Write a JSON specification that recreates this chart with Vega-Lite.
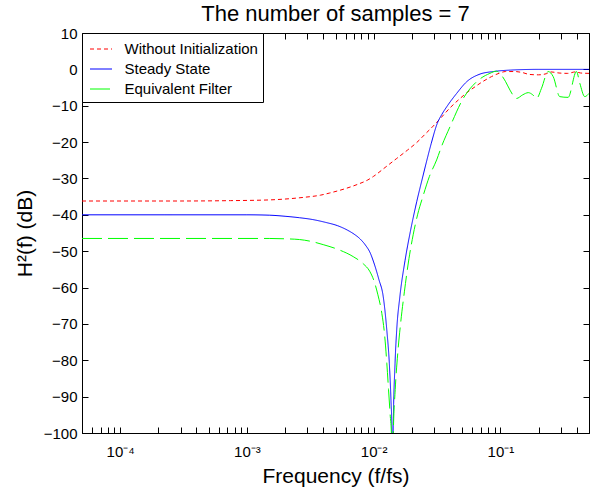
{
  "$schema": "https://vega.github.io/schema/vega-lite/v6.json",
  "width": 507,
  "height": 400,
  "autosize": {"type": "none"},
  "padding": {"left": 82, "top": 33, "right": 2, "bottom": 60},
  "background": "white",
  "title": {"text": "The number of samples = 7", "fontSize": 22, "font": "Liberation Sans", "fontWeight": "normal", "color": "black", "anchor": "middle", "offset": 0},
  "config": {
    "font": "Liberation Sans",
    "view": {"stroke": "black", "strokeWidth": 1},
    "axis": {
      "grid": false,
      "domainColor": "black",
      "tickColor": "black",
      "labelColor": "black",
      "titleColor": "black",
      "labelFont": "Liberation Sans",
      "titleFont": "Liberation Sans",
      "labelFontSize": 15,
      "titleFontSize": 21,
      "titleFontWeight": "normal",
      "tickSize": -6,
      "labelOverlap": false,
      "labelFlush": false
    },
    "legend": {
      "orient": "top-left",
      "offset": 0,
      "padding": 4.5,
      "strokeColor": "black",
      "fillColor": "white",
      "cornerRadius": 0,
      "symbolType": "stroke",
      "symbolSize": 484,
      "symbolStrokeWidth": 1,
      "symbolOffset": 3,
      "labelFont": "Liberation Sans",
      "labelFontSize": 15,
      "labelColor": "black",
      "labelOffset": 12,
      "rowPadding": -4
    }
  },
  "data": {"values": [
    {"f": 5e-5, "db": -36.2, "s": "Without Initialization"},
    {"f": 3e-4, "db": -36.2, "s": "Without Initialization"},
    {"f": 7.4e-4, "db": -36.1, "s": "Without Initialization"},
    {"f": 1.5e-3, "db": -35.9, "s": "Without Initialization"},
    {"f": 2.8e-3, "db": -35.2, "s": "Without Initialization"},
    {"f": 3.8e-3, "db": -34.6, "s": "Without Initialization"},
    {"f": 4.5e-3, "db": -34.0, "s": "Without Initialization"},
    {"f": 6.1e-3, "db": -32.7, "s": "Without Initialization"},
    {"f": 7.5e-3, "db": -31.6, "s": "Without Initialization"},
    {"f": 9.0e-3, "db": -30.4, "s": "Without Initialization"},
    {"f": 0.01, "db": -29.4, "s": "Without Initialization"},
    {"f": 0.0125, "db": -26.8, "s": "Without Initialization"},
    {"f": 0.0152, "db": -24.5, "s": "Without Initialization"},
    {"f": 0.0185, "db": -22.2, "s": "Without Initialization"},
    {"f": 0.0219, "db": -20.1, "s": "Without Initialization"},
    {"f": 0.0255, "db": -17.8, "s": "Without Initialization"},
    {"f": 0.0295, "db": -15.6, "s": "Without Initialization"},
    {"f": 0.034, "db": -13.3, "s": "Without Initialization"},
    {"f": 0.04, "db": -10.6, "s": "Without Initialization"},
    {"f": 0.047, "db": -8.3, "s": "Without Initialization"},
    {"f": 0.054, "db": -6.5, "s": "Without Initialization"},
    {"f": 0.063, "db": -4.8, "s": "Without Initialization"},
    {"f": 0.073, "db": -3.3, "s": "Without Initialization"},
    {"f": 0.085, "db": -2.0, "s": "Without Initialization"},
    {"f": 0.099, "db": -1.0, "s": "Without Initialization"},
    {"f": 0.11, "db": -0.6, "s": "Without Initialization"},
    {"f": 0.13, "db": -0.6, "s": "Without Initialization"},
    {"f": 0.15, "db": -0.9, "s": "Without Initialization"},
    {"f": 0.17, "db": -1.4, "s": "Without Initialization"},
    {"f": 0.2, "db": -1.5, "s": "Without Initialization"},
    {"f": 0.23, "db": -1.2, "s": "Without Initialization"},
    {"f": 0.25, "db": -0.7, "s": "Without Initialization"},
    {"f": 0.29, "db": -1.0, "s": "Without Initialization"},
    {"f": 0.34, "db": -1.1, "s": "Without Initialization"},
    {"f": 0.39, "db": -0.7, "s": "Without Initialization"},
    {"f": 0.43, "db": -1.0, "s": "Without Initialization"},
    {"f": 0.5, "db": -1.1, "s": "Without Initialization"},

    {"f": 5e-5, "db": -40.0, "s": "Steady State"},
    {"f": 1.0e-3, "db": -40.0, "s": "Steady State"},
    {"f": 1.5e-3, "db": -40.1, "s": "Steady State"},
    {"f": 2.0e-3, "db": -40.4, "s": "Steady State"},
    {"f": 2.6e-3, "db": -40.8, "s": "Steady State"},
    {"f": 3.3e-3, "db": -41.3, "s": "Steady State"},
    {"f": 4.2e-3, "db": -42.1, "s": "Steady State"},
    {"f": 5.2e-3, "db": -43.0, "s": "Steady State"},
    {"f": 6.2e-3, "db": -44.2, "s": "Steady State"},
    {"f": 7.0e-3, "db": -45.3, "s": "Steady State"},
    {"f": 7.8e-3, "db": -46.6, "s": "Steady State"},
    {"f": 8.6e-3, "db": -48.3, "s": "Steady State"},
    {"f": 9.4e-3, "db": -50.5, "s": "Steady State"},
    {"f": 0.01, "db": -53.0, "s": "Steady State"},
    {"f": 0.011, "db": -57.8, "s": "Steady State"},
    {"f": 0.0119, "db": -62.5, "s": "Steady State"},
    {"f": 0.0127, "db": -71.7, "s": "Steady State"},
    {"f": 0.0133, "db": -81.0, "s": "Steady State"},
    {"f": 0.0137, "db": -91.0, "s": "Steady State"},
    {"f": 0.01395, "db": -100.0, "s": "Steady State"},
    {"f": 0.0141, "db": -125.0, "s": "Steady State"},
    {"f": 0.01425, "db": -100.0, "s": "Steady State"},
    {"f": 0.01475, "db": -80.8, "s": "Steady State"},
    {"f": 0.0152, "db": -71.7, "s": "Steady State"},
    {"f": 0.0161, "db": -62.5, "s": "Steady State"},
    {"f": 0.0177, "db": -52.5, "s": "Steady State"},
    {"f": 0.0195, "db": -44.5, "s": "Steady State"},
    {"f": 0.0219, "db": -36.3, "s": "Steady State"},
    {"f": 0.0245, "db": -29.3, "s": "Steady State"},
    {"f": 0.0262, "db": -25.2, "s": "Steady State"},
    {"f": 0.0285, "db": -20.3, "s": "Steady State"},
    {"f": 0.0318, "db": -14.8, "s": "Steady State"},
    {"f": 0.0345, "db": -12.4, "s": "Steady State"},
    {"f": 0.0377, "db": -10.3, "s": "Steady State"},
    {"f": 0.0452, "db": -6.6, "s": "Steady State"},
    {"f": 0.0542, "db": -3.4, "s": "Steady State"},
    {"f": 0.069, "db": -1.3, "s": "Steady State"},
    {"f": 0.088, "db": -0.6, "s": "Steady State"},
    {"f": 0.12, "db": -0.2, "s": "Steady State"},
    {"f": 0.2, "db": 0.0, "s": "Steady State"},
    {"f": 0.5, "db": 0.0, "s": "Steady State"},

    {"f": 5e-5, "db": -46.5, "s": "Equivalent Filter"},
    {"f": 1.5e-3, "db": -46.5, "s": "Equivalent Filter"},
    {"f": 2.0e-3, "db": -46.6, "s": "Equivalent Filter"},
    {"f": 2.6e-3, "db": -46.8, "s": "Equivalent Filter"},
    {"f": 3.2e-3, "db": -47.3, "s": "Equivalent Filter"},
    {"f": 4.0e-3, "db": -48.2, "s": "Equivalent Filter"},
    {"f": 5.4e-3, "db": -49.7, "s": "Equivalent Filter"},
    {"f": 6.9e-3, "db": -51.5, "s": "Equivalent Filter"},
    {"f": 8.3e-3, "db": -53.5, "s": "Equivalent Filter"},
    {"f": 9.3e-3, "db": -55.5, "s": "Equivalent Filter"},
    {"f": 0.01, "db": -57.9, "s": "Equivalent Filter"},
    {"f": 0.0108, "db": -62.0, "s": "Equivalent Filter"},
    {"f": 0.0116, "db": -67.1, "s": "Equivalent Filter"},
    {"f": 0.0122, "db": -73.0, "s": "Equivalent Filter"},
    {"f": 0.0127, "db": -80.8, "s": "Equivalent Filter"},
    {"f": 0.0131, "db": -88.0, "s": "Equivalent Filter"},
    {"f": 0.0135, "db": -95.0, "s": "Equivalent Filter"},
    {"f": 0.0138, "db": -100.0, "s": "Equivalent Filter"},
    {"f": 0.01405, "db": -125.0, "s": "Equivalent Filter"},
    {"f": 0.0143, "db": -100.0, "s": "Equivalent Filter"},
    {"f": 0.0148, "db": -88.0, "s": "Equivalent Filter"},
    {"f": 0.0155, "db": -78.0, "s": "Equivalent Filter"},
    {"f": 0.0163, "db": -70.0, "s": "Equivalent Filter"},
    {"f": 0.0175, "db": -61.0, "s": "Equivalent Filter"},
    {"f": 0.019, "db": -52.0, "s": "Equivalent Filter"},
    {"f": 0.0205, "db": -45.5, "s": "Equivalent Filter"},
    {"f": 0.0222, "db": -40.0, "s": "Equivalent Filter"},
    {"f": 0.0247, "db": -34.5, "s": "Equivalent Filter"},
    {"f": 0.0275, "db": -29.5, "s": "Equivalent Filter"},
    {"f": 0.0314, "db": -24.9, "s": "Equivalent Filter"},
    {"f": 0.0345, "db": -21.0, "s": "Equivalent Filter"},
    {"f": 0.04, "db": -15.8, "s": "Equivalent Filter"},
    {"f": 0.0509, "db": -8.0, "s": "Equivalent Filter"},
    {"f": 0.0649, "db": -3.4, "s": "Equivalent Filter"},
    {"f": 0.0826, "db": -1.1, "s": "Equivalent Filter"},
    {"f": 0.093, "db": -0.5, "s": "Equivalent Filter"},
    {"f": 0.099, "db": -1.1, "s": "Equivalent Filter"},
    {"f": 0.11, "db": -3.4, "s": "Equivalent Filter"},
    {"f": 0.119, "db": -5.7, "s": "Equivalent Filter"},
    {"f": 0.134, "db": -8.0, "s": "Equivalent Filter"},
    {"f": 0.15, "db": -7.0, "s": "Equivalent Filter"},
    {"f": 0.166, "db": -6.4, "s": "Equivalent Filter"},
    {"f": 0.18, "db": -7.0, "s": "Equivalent Filter"},
    {"f": 0.193, "db": -8.0, "s": "Equivalent Filter"},
    {"f": 0.211, "db": -5.2, "s": "Equivalent Filter"},
    {"f": 0.238, "db": -0.6, "s": "Equivalent Filter"},
    {"f": 0.261, "db": -2.0, "s": "Equivalent Filter"},
    {"f": 0.294, "db": -7.5, "s": "Equivalent Filter"},
    {"f": 0.342, "db": -7.7, "s": "Equivalent Filter"},
    {"f": 0.398, "db": -0.6, "s": "Equivalent Filter"},
    {"f": 0.423, "db": -3.8, "s": "Equivalent Filter"},
    {"f": 0.463, "db": -7.5, "s": "Equivalent Filter"},
    {"f": 0.5, "db": -6.6, "s": "Equivalent Filter"}
  ]},
  "layer": [
    {
      "mark": {"type": "line", "clip": true, "strokeWidth": 1, "interpolate": "monotone"},
      "encoding": {
        "x": {"field": "f", "type": "quantitative",
          "scale": {"type": "log", "domain": [5e-5, 0.5], "nice": false},
          "axis": {"orient": "bottom", "title": "Frequency (f/fs)", "titlePadding": 6, "labelPadding": 17,
            "values": [6e-5, 7e-5, 8e-5, 9e-5, 0.0001, 0.0002, 0.0003, 0.0004, 0.0005, 0.0006, 0.0007, 0.0008, 0.0009, 0.001, 0.002, 0.003, 0.004, 0.005, 0.006, 0.007, 0.008, 0.009, 0.01, 0.02, 0.03, 0.04, 0.05, 0.06, 0.07, 0.08, 0.09, 0.1, 0.2, 0.3, 0.4],
            "labelExpr": "datum.value == 0.0001 ? '10⁻⁴' : datum.value == 0.001 ? '10⁻³' : datum.value == 0.01 ? '10⁻²' : datum.value == 0.1 ? '10⁻¹' : ''"}},
        "y": {"field": "db", "type": "quantitative",
          "scale": {"domain": [-100, 10], "nice": false},
          "axis": {"orient": "left", "title": "H²(f) (dB)", "titlePadding": 8, "labelPadding": 11,
            "values": [-100, -90, -80, -70, -60, -50, -40, -30, -20, -10, 0, 10]}},
        "color": {"field": "s", "type": "nominal",
          "scale": {"domain": ["Without Initialization", "Steady State", "Equivalent Filter"], "range": ["#ff0000", "#0000ff", "#00ff00"]},
          "legend": {"title": null}},
        "strokeDash": {"field": "s", "type": "nominal",
          "scale": {"domain": ["Without Initialization", "Steady State", "Equivalent Filter"], "range": [[4, 3], [1, 0], [20, 6]]},
          "legend": {"title": null}}
      }
    },
    {
      "mark": {"type": "point", "opacity": 0},
      "encoding": {
        "x": {"field": "f", "type": "quantitative",
          "scale": {"type": "log", "domain": [5e-5, 0.5], "nice": false},
          "axis": {"orient": "top", "title": null, "labels": false,
            "values": [6e-5, 7e-5, 8e-5, 9e-5, 0.0001, 0.0002, 0.0003, 0.0004, 0.0005, 0.0006, 0.0007, 0.0008, 0.0009, 0.001, 0.002, 0.003, 0.004, 0.005, 0.006, 0.007, 0.008, 0.009, 0.01, 0.02, 0.03, 0.04, 0.05, 0.06, 0.07, 0.08, 0.09, 0.1, 0.2, 0.3, 0.4]}},
        "y": {"field": "db", "type": "quantitative",
          "scale": {"domain": [-100, 10], "nice": false},
          "axis": {"orient": "right", "title": null, "labels": false,
            "values": [-100, -90, -80, -70, -60, -50, -40, -30, -20, -10, 0, 10]}}
      }
    }
  ],
  "resolve": {"axis": {"x": "independent", "y": "independent"}}
}
